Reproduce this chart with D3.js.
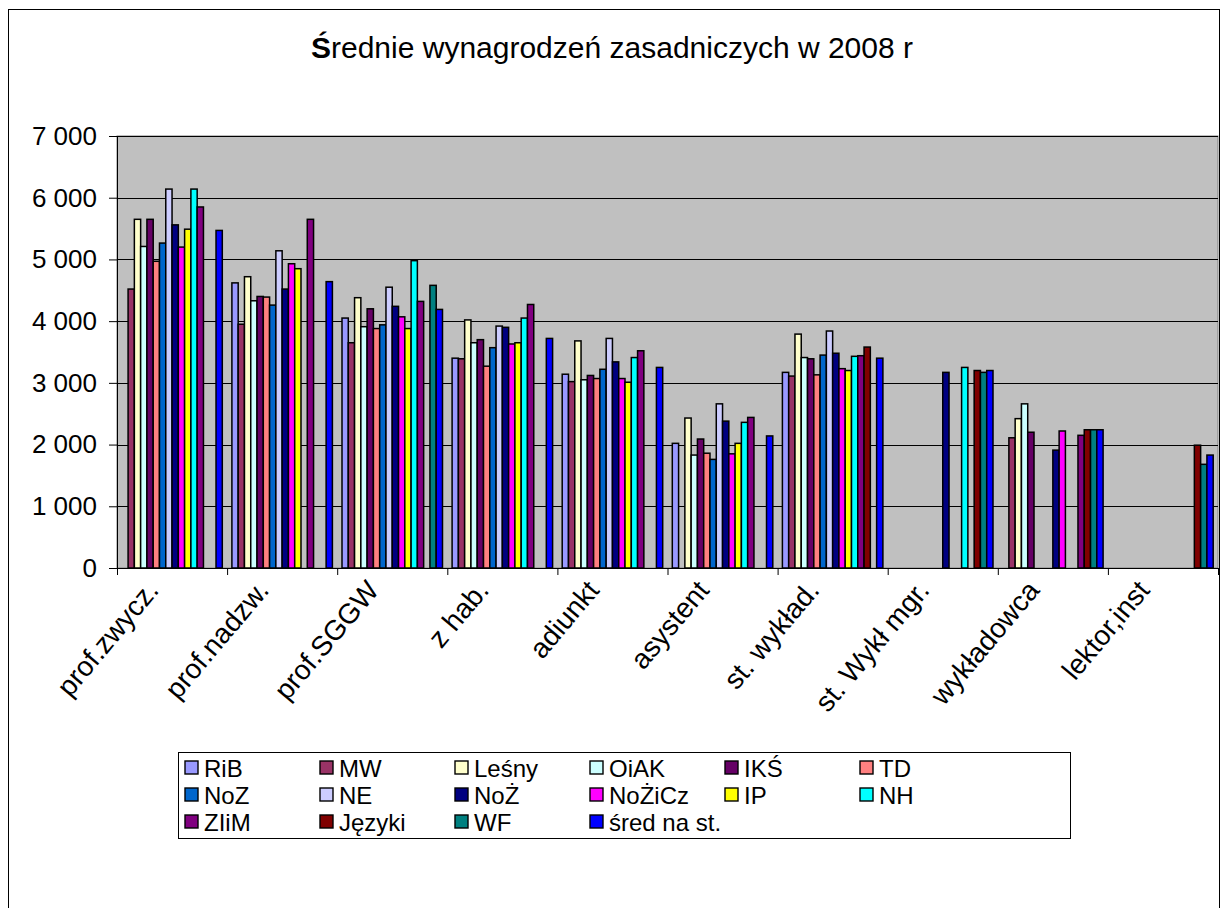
<!DOCTYPE html>
<html>
<head>
<meta charset="utf-8">
<script src="https://cdn.jsdelivr.net/npm/d3@7"></script>
<style>
  body { margin: 0; background: #fff; }
  text { font-family: Arial, "Liberation Sans", sans-serif; fill: #000; }
</style>
</head>
<body>
<div id="container"></div>
<script>
const categories = ["prof.zwycz.", "prof.nadzw.", "prof.SGGW", "z hab.", "adiunkt", "asystent", "st. wykład.", "st. Wykł mgr.", "wykładowca", "lektor,inst"];
const seriesNames = ["RiB", "MW", "Leśny", "OiAK", "IKŚ", "TD", "NoZ", "NE", "NoŻ", "NoŻiCz", "IP", "NH", "ZIiM", "Języki", "WF", "śred na st."];
const seriesColors = ["#9999FF", "#993366", "#FFFFCC", "#CCFFFF", "#660066", "#FF8080", "#0066CC", "#CCCCFF", "#000080", "#FF00FF", "#FFFF00", "#00FFFF", "#800080", "#800000", "#008080", "#0000FF"];

// one array per series, one value per category (0 = no bar)
const RiB    = [0,    4620, 4050, 3400, 3140, 2020, 3170, 0,    0,    0];
const MW     = [4520, 3950, 3650, 3390, 3020, 0,    3110, 0,    2110, 0];
const Lesny  = [5650, 4720, 4380, 4020, 3680, 2430, 3790, 0,    2420, 0];
const OiAK   = [5210, 4330, 3910, 3650, 3050, 1830, 3410, 0,    2660, 0];
const IKS    = [5650, 4400, 4200, 3700, 3120, 2090, 3390, 0,    2200, 0];
const TD     = [4970, 4390, 3880, 3270, 3070, 1860, 3130, 0,    0,    0];
const NoZ    = [5265, 4260, 3940, 3570, 3220, 1760, 3450, 0,    0,    0];
const NE     = [6140, 5140, 4550, 3920, 3720, 2660, 3840, 0,    0,    0];
const NoZyw  = [5560, 4520, 4240, 3900, 3340, 2380, 3480, 3170, 1910, 0];
const NoZiCz = [5200, 4930, 4070, 3630, 3070, 1850, 3230, 0,    2220, 0];
const IP     = [5490, 4850, 3880, 3650, 3010, 2020, 3200, 0,    0,    0];
const NH     = [6140, 0,    4980, 4050, 3410, 2360, 3430, 3250, 0,    0];
const ZIiM   = [5850, 5650, 4320, 4270, 3520, 2440, 3440, 0,    2150, 0];
const Jezyki = [0,    0,    0,    0,    0,    0,    3580, 3200, 2240, 1990];
const WF     = [0,    0,    4580, 0,    0,    0,    0,    3170, 2240, 1680];
const Sred   = [5470, 4640, 4190, 3720, 3250, 2140, 3400, 3200, 2240, 1830];
const seriesValues = [RiB, MW, Lesny, OiAK, IKS, TD, NoZ, NE, NoZyw, NoZiCz, IP, NH, ZIiM, Jezyki, WF, Sred];

const yTicks = [0, 1000, 2000, 3000, 4000, 5000, 6000, 7000];
const title = "rednie wynagrodzeń zasadniczych w 2008 r";

const w = 1226;
const h = 908;
const plot = { left: 117, right: 1218, top: 136, bottom: 568 };

const svg = d3.select("#container")
    .append("svg")
    .attr("width", w)
    .attr("height", h);

// outer frame
svg.append("rect")
    .attr("x", 8.5).attr("y", 9.5)
    .attr("width", 1211).attr("height", 920)
    .attr("fill", "#fff")
    .attr("stroke", "#000")
    .attr("stroke-width", 1);

// title (bold first letter)
const t = svg.append("text")
    .attr("x", 612).attr("y", 58)
    .attr("text-anchor", "middle")
    .attr("font-size", 30);
t.append("tspan").attr("font-weight", "bold").text("Ś");
t.append("tspan").text(title);

const x0 = d3.scaleBand()
    .domain(categories)
    .range([plot.left, plot.right])
    .padding(0);

const x1 = d3.scaleBand()
    .domain(seriesNames)
    .range([4.8, x0.bandwidth() - 4.8])
    .padding(0);

const y = d3.scaleLinear()
    .domain([0, 7000])
    .range([plot.bottom, plot.top]);

// plot background
svg.append("rect")
    .attr("x", plot.left).attr("y", plot.top)
    .attr("width", plot.right - plot.left).attr("height", plot.bottom - plot.top)
    .attr("fill", "#C0C0C0")
    .attr("stroke", "#808080");

// gridlines
svg.append("g")
    .selectAll("line")
    .data(yTicks.slice(1))
    .enter().append("line")
    .attr("x1", plot.left).attr("x2", plot.right)
    .attr("y1", (d) => Math.round(y(d)) + 0.5)
    .attr("y2", (d) => Math.round(y(d)) + 0.5)
    .attr("stroke", "#000")
    .attr("stroke-width", 1);

// bars
const groups = svg.append("g")
    .selectAll("g")
    .data(categories)
    .enter().append("g")
    .attr("transform", (d) => `translate(${x0(d)},0)`);

groups.selectAll("rect")
    .data((d, ci) => seriesNames.map((s, si) => ({ s: s, v: seriesValues[si][ci], c: seriesColors[si] })).filter((e) => e.v > 0))
    .enter().append("rect")
    .attr("x", (d) => x1(d.s))
    .attr("y", (d) => y(d.v))
    .attr("width", x1.bandwidth())
    .attr("height", (d) => y(0) - y(d.v))
    .attr("fill", (d) => d.c)
    .attr("stroke", "#000")
    .attr("stroke-width", 1.5);

// y axis
const fmt = d3.formatLocale({ decimal: ",", thousands: " ", grouping: [3], currency: ["", ""] }).format(",");
const yAxis = d3.axisLeft(y)
    .tickValues(yTicks)
    .tickSize(8)
    .tickPadding(12)
    .tickFormat(fmt);

svg.append("g")
    .attr("transform", `translate(${plot.left},0)`)
    .call(yAxis)
    .call((g) => g.select(".domain").attr("stroke", "#000"))
    .call((g) => g.selectAll(".tick line").attr("stroke", "#000"))
    .call((g) => g.selectAll(".tick text").attr("font-size", 26).attr("font-family", "Arial, 'Liberation Sans', sans-serif"));

// x axis
const xAxis = d3.axisBottom(x0)
    .tickValues(categories)
    .tickSize(0)
    .tickFormat("");

const xg = svg.append("g")
    .attr("transform", `translate(0,${plot.bottom})`)
    .call(xAxis);
xg.select(".domain").attr("stroke", "#000");

// tick marks at category boundaries
xg.selectAll(".sep")
    .data(categories.concat(["end"]))
    .enter().append("line")
    .attr("x1", (d, i) => (i < categories.length ? x0(d) : plot.right) + 0.5)
    .attr("x2", (d, i) => (i < categories.length ? x0(d) : plot.right) + 0.5)
    .attr("y1", 0).attr("y2", 7)
    .attr("stroke", "#000");

svg.append("g")
    .selectAll("text")
    .data(categories)
    .enter().append("text")
    .attr("transform", (d) => `translate(${x0(d) + x0.bandwidth() / 2 - 12},${plot.bottom + 23}) rotate(-50)`)
    .attr("text-anchor", "end")
    .attr("font-size", 28)
    .text((d) => d);

// legend
const legend = svg.append("g");
legend.append("rect")
    .attr("x", 178.5).attr("y", 752.5)
    .attr("width", 892).attr("height", 86)
    .attr("fill", "#fff")
    .attr("stroke", "#000");

const items = legend.selectAll("g")
    .data(seriesNames)
    .enter().append("g")
    .attr("transform", (d, i) => `translate(${185 + (i % 6) * 135},${768 + Math.floor(i / 6) * 27})`);

items.append("rect")
    .attr("x", 0).attr("y", -7)
    .attr("width", 13).attr("height", 13)
    .attr("fill", (d, i) => seriesColors[i])
    .attr("stroke", "#000")
    .attr("stroke-width", 1.4);

items.append("text")
    .attr("x", 19).attr("y", 9)
    .attr("font-size", 24)
    .text((d) => d);
</script>
</body>
</html>
